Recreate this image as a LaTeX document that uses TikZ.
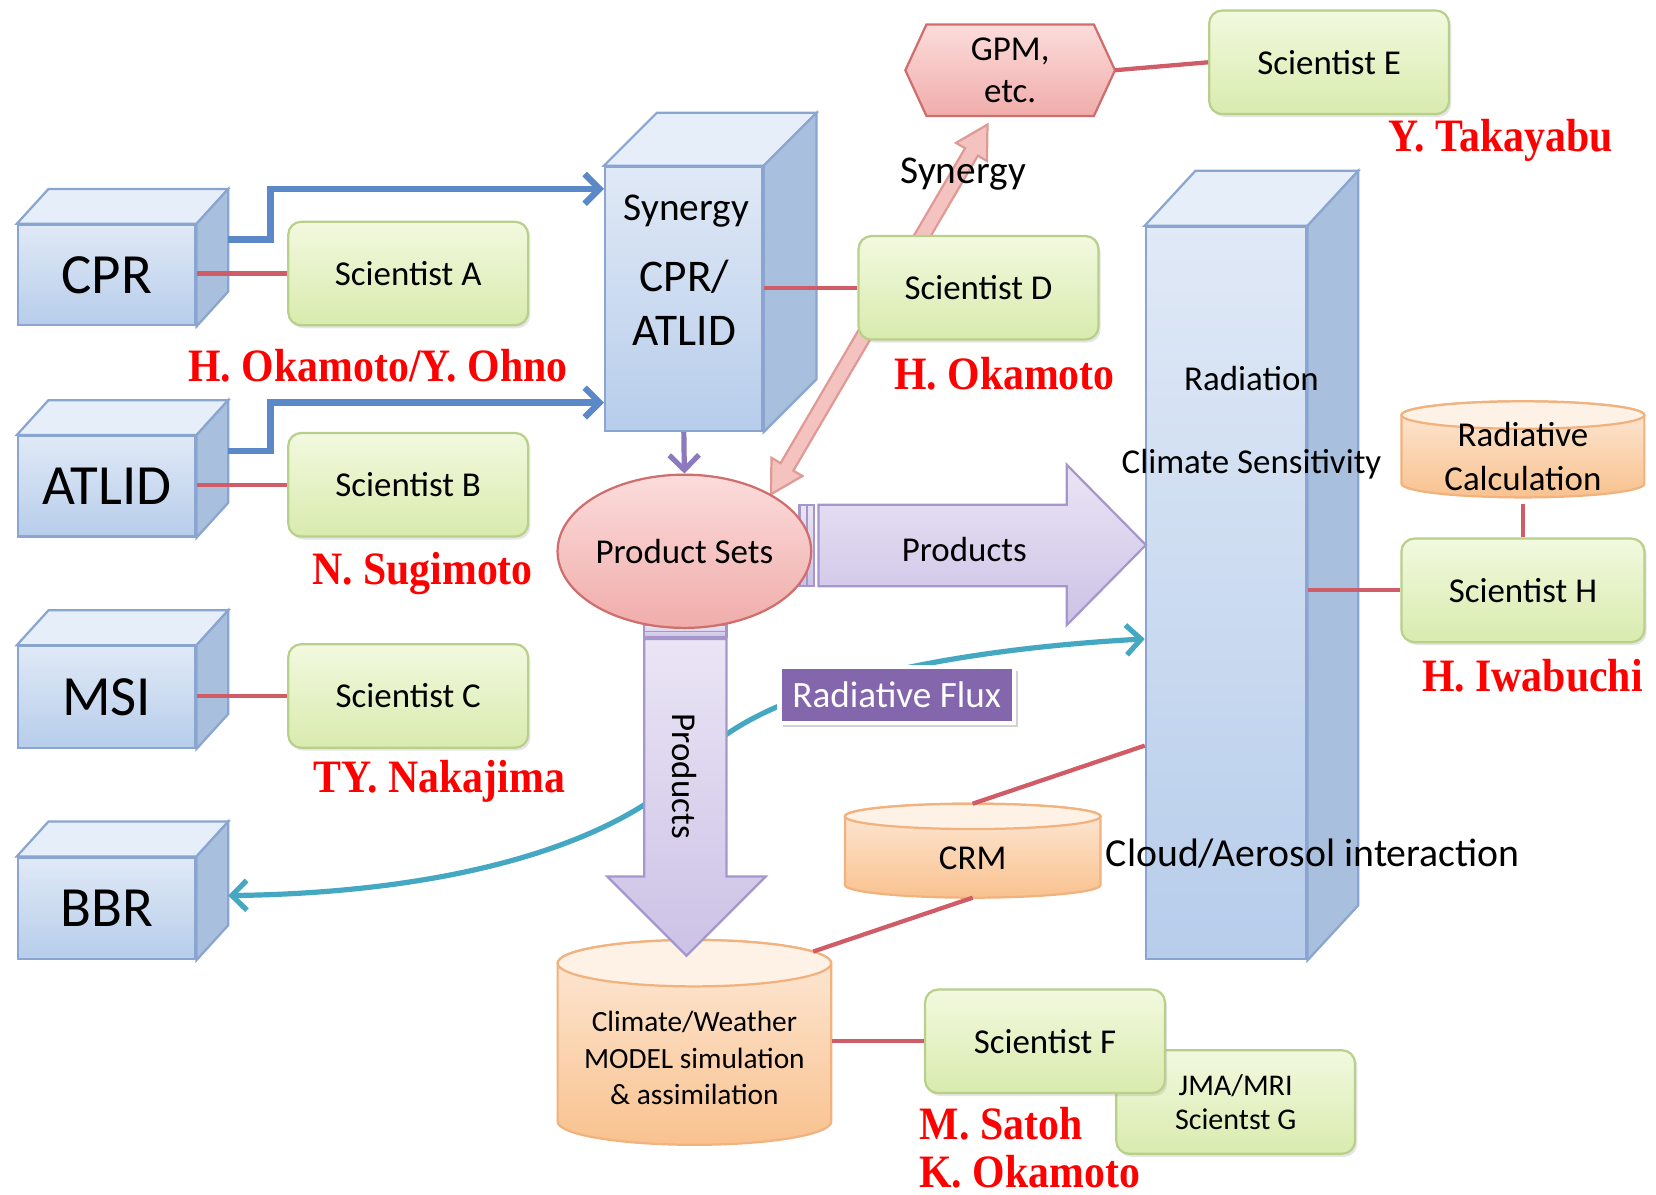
\documentclass[tikz,border=0pt]{standalone}
\usepackage{fontspec}
\setmainfont{Carlito}
\newfontfamily\rfont{Liberation Serif}
\usepackage{graphicx}
\usetikzlibrary{calc,arrows.meta,shadows,shapes.geometric}

\definecolor{cubeA}{HTML}{E0E9F6}
\definecolor{cubeB}{HTML}{B7CDEB}
\definecolor{cubeSide}{HTML}{A9BFDE}
\definecolor{cubeTop}{HTML}{E6EEF9}
\definecolor{cubeLine}{HTML}{8AA5CF}
\definecolor{sciA}{HTML}{F2F9DF}
\definecolor{sciB}{HTML}{D9EBAE}
\definecolor{sciLine}{HTML}{B9D08A}
\definecolor{redLine}{HTML}{CF5C66}
\definecolor{blueArr}{HTML}{5B89C8}
\definecolor{purpArr}{HTML}{8B7BBE}
\definecolor{tealArr}{HTML}{45A8C2}
\definecolor{pinkA}{HTML}{FBDCDB}
\definecolor{pinkB}{HTML}{F0ADAB}
\definecolor{pinkLine}{HTML}{CF6E6C}
\definecolor{pinkArr}{HTML}{F5C3BF}
\definecolor{pinkArrLine}{HTML}{E09A95}
\definecolor{prodA}{HTML}{EAE5F5}
\definecolor{prodB}{HTML}{CCC2E6}
\definecolor{prodLine}{HTML}{A597CC}
\definecolor{cylA}{HTML}{FDE9D8}
\definecolor{cylB}{HTML}{F9C28F}
\definecolor{cylTop}{HTML}{FEF1E6}
\definecolor{cylLine}{HTML}{F2B27E}
\definecolor{fluxFill}{HTML}{8466AC}

\newcommand\fsz[2]{\fontsize{#1}{#2}\selectfont}
\newcommand\nm[1]{\scalebox{0.9}[1]{#1}}

\tikzset{
  cubefront/.style={draw=cubeLine, line width=0.6pt, top color=cubeA, bottom color=cubeB, inner sep=0pt},
  cubeside/.style={draw=cubeLine, line width=0.6pt, fill=cubeSide},
  cubetop/.style={draw=cubeLine, line width=0.6pt, fill=cubeTop},
  sci/.style={draw=sciLine, line width=0.6pt, rounded corners=3.5pt, top color=sciA, bottom color=sciB,
    minimum width=2.27cm, minimum height=0.98cm, font=\fsz{9.4}{11},
    drop shadow={opacity=0.2, shadow xshift=0.6pt, shadow yshift=-0.8pt}},
  redline/.style={draw=redLine, line width=1.15pt},
  bluearr/.style={draw=blueArr, line width=1.7pt, -{Straight Barb[length=4pt,width=8pt]}},
  purparr/.style={draw=purpArr, line width=1.4pt, -{Straight Barb[length=4pt,width=8pt]}},
  tealarr/.style={draw=tealArr, line width=1.4pt, {Straight Barb[length=4pt,width=8pt]}-{Straight Barb[length=4pt,width=8pt]}},
  prodarrow/.style={draw=prodLine, line width=0.6pt, top color=prodA, bottom color=prodB},
  cylbody/.style={draw=cylLine, line width=0.6pt, top color=cylA, bottom color=cylB},
  cyltop/.style={draw=cylLine, line width=0.6pt, fill=cylTop},
  who/.style={text=red, font=\rfont\bfseries\fsz{12.5}{15}},
  lbl/.style={font=\fsz{9.4}{11}},
}

\newcommand\cuboid[8]{%
  \node[cubefront, minimum width=#4, minimum height=#5, font=\fsz{15.3}{18}] (#1) at (#2,#3) {#8};
  \filldraw[cubetop] (#1.north west) -- ++(#6,#7) -- ($(#1.north east)+(#6,#7)$) -- (#1.north east) -- cycle;
  \filldraw[cubeside] (#1.north east) -- ++(#6,#7) -- ($(#1.south east)+(#6,#7)$) -- (#1.south east) -- cycle;
}

\newcommand\drum[5]{%
  \path[cylbody] (#1-#4,#2) -- (#1-#4,#3)
     arc[start angle=180, end angle=360, x radius=#4*0.01cm, y radius=#5*0.01cm]
     -- (#1+#4,#2)
     arc[start angle=0, end angle=180, x radius=#4*0.01cm, y radius=#5*0.01cm] -- cycle;
  \path[cyltop] (#1,#2) ellipse[x radius=#4*0.01cm, y radius=#5*0.01cm];
}

\pgfdeclarelayer{bg}
\pgfsetlayers{bg,main}

\begin{document}
\begin{tikzpicture}[x=0.01cm, y=-0.01cm]
\begin{pgfonlayer}{bg}
  \fill[white] (0,0) rectangle (1568,1131);
\end{pgfonlayer}
\useasboundingbox (0,0) rectangle (1568,1131);

% cylinders
\drum{657.5}{912}{1062}{129.5}{22}
\drum{921}{773}{838}{121}{12}
\drum{1442}{393}{458}{115}{13}
\coordinate (crmtop) at (921,761);
\coordinate (crmbot) at (921,850);
\coordinate (cwtop) at (770,901);
\node[font=\fsz{7.9}{9.8}, align=center, minimum width=2.59cm] (cw) at (657.5,1002) {Climate/Weather\\MODEL simulation\\\&\ assimilation};
\node[lbl] (crm) at (921,813) {CRM};
\node[lbl, align=center, font=\fsz{9.4}{11.95}, minimum height=0.78cm, minimum width=2.3cm] (rcalc) at (1442,432) {Radiative\\Calculation};

% pink double block arrow (Product Sets <-> GPM)
\filldraw[fill=pinkArr, draw=pinkArrLine, line width=0.6pt]
  (730,468) -- (759.8,450.7) -- (751.2,445.65) -- (925.9,147.4) -- (934.5,152.5) -- (935,118)
  -- (905.2,135.3) -- (913.8,140.35) -- (739.1,438.6) -- (730.5,433.5) -- cycle;

% cuboids
\cuboid{cpr}{101}{260.5}{1.68cm}{0.95cm}{30}{-33}{CPR}
\cuboid{atlid}{101}{460.5}{1.68cm}{0.95cm}{30}{-33}{ATLID}
\cuboid{msi}{101}{660}{1.68cm}{0.96cm}{30}{-33}{MSI}
\cuboid{bbr}{101}{860}{1.68cm}{0.96cm}{30}{-33}{BBR}
\cuboid{syn}{647.5}{283}{1.49cm}{2.5cm}{50}{-50}{}
\cuboid{rad}{1161}{561.5}{1.52cm}{6.93cm}{48}{-52}{}

\node[font=\fsz{10.6}{12}] (synl1) at (650,200) {Synergy};
\node[font=\fsz{12.2}{14}] (synl2) at (648,262) {CPR/};
\node[font=\fsz{12.2}{14}] (synl3) at (648,313) {ATLID};

% teal curve
\draw[tealarr] ($(bbr.east)+(30,-12)$) .. controls (450,845) and (600,790) .. (660,720)
   .. controls (720,650) and (900,615) .. ($(rad.west)+(0,43.5)$);

% blue arrows
\draw[bluearr] ($(cpr.north east)+(30,15)$) -- ++(40,0) |- ($(syn.north west)+(0,22)$);
\draw[bluearr] ($(atlid.north east)+(30,15)$) -- ++(40,0) |- ($(syn.south west)+(0,-28)$);

% products block arrows
\filldraw[prodarrow] (775,478) -- (1010,478) -- (1010,440) -- (1085,516) -- (1010,592) -- (1010,555) -- (775,555) -- cycle;
\filldraw[prodarrow] (757,478) rectangle (771,555);
\draw[prodLine, line width=0.5pt] (764,478) -- (764,555);
\filldraw[prodarrow] (610,592) rectangle (688,603);
\draw[prodLine, line width=0.5pt] (610,598) -- (688,598);
\filldraw[prodarrow] (610,605) -- (688,605) -- (688,830) -- (725,830) -- (650,905) -- (575,830) -- (610,830) -- cycle;
\node[lbl] (prodH) at (913,520) {Products};
\node[lbl, rotate=-90] (prodV) at (648,735) {Products};

% product sets
\node[ellipse, draw=pinkLine, line width=0.6pt, top color=pinkA, bottom color=pinkB, inner sep=0pt,
  minimum width=2.4cm, minimum height=1.45cm, font=\fsz{9.4}{11}] (ps) at (648,522) {Product Sets};
\draw[purparr] (syn.south) -- (ps.north);

% GPM
\node[minimum width=1.97cm, minimum height=0.83cm, align=center, font=\fsz{9.4}{11.4}] (gpm) at (956.5,66.5) {GPM,\\etc.};
\begin{pgfonlayer}{bg}
\filldraw[draw=pinkLine, line width=0.6pt, top color=pinkA, bottom color=pinkB]
  (gpm.west) -- ($(gpm.north west)+(20,0)$) -- ($(gpm.north east)+(-20,0)$) -- (gpm.east)
  -- ($(gpm.south east)+(-20,0)$) -- ($(gpm.south west)+(20,0)$) -- cycle;
\end{pgfonlayer}

% scientists
\node[sci] (sciA) at (386.5,259) {Scientist A};
\node[sci] (sciB) at (386.5,459) {Scientist B};
\node[sci] (sciC) at (386.5,659) {Scientist C};
\node[sci] (sciD) at (926.5,272.5) {Scientist D};
\node[sci] (sciE) at (1258.5,59) {Scientist E};
\node[sci, minimum width=2.3cm] (sciH) at (1442,559) {Scientist H};
\node[sci, minimum width=2.26cm, font=\fsz{8.1}{9.1}, align=center] (sciG) at (1170,1043.5) {JMA/MRI\\Scientst G};
\node[sci] (sciF) at (989.5,986) {Scientist F};

% red links
\draw[redline] (cpr.east |- sciA.west) -- (sciA.west);
\draw[redline] (atlid.east |- sciB.west) -- (sciB.west);
\draw[redline] (msi.east |- sciC.west) -- (sciC.west);
\draw[redline] (syn.east |- sciD.west) -- (sciD.west);
\draw[redline] (gpm.east) -- (sciE.west);
\draw[redline] (rad.east |- sciH.west) -- (sciH.west);
\draw[redline] (rcalc.south) -- (sciH.north);
\draw[redline] (cw.east |- sciF.west) -- (sciF.west);
\draw[redline] (crmtop) -- ($(rad.west)+(0,144.5)$);
\draw[redline] (crmbot) -- (cwtop);

% radiative flux
\node[draw=white, line width=1.2pt, fill=fluxFill, text=white, font=\fsz{10}{12},
  minimum width=2.22cm, minimum height=0.53cm,
  drop shadow={opacity=0.35, shadow xshift=1pt, shadow yshift=-1pt}] (flux) at (849,658) {Radiative Flux};

% labels
\node[font=\fsz{10.6}{12}] (synarr) at (912,165) {Synergy};
\node[lbl] (radl1) at (1185,358) {Radiation};
\node[lbl] (radl2) at (1185,440) {Climate Sensitivity};
\node[font=\fsz{10.7}{12}] (radl3) at (1243,808) {Cloud/Aerosol interaction};

% names
\node[who] (n1) at (358,346) {\nm{H. Okamoto/Y. Ohno}};
\node[who] (n2) at (951,354) {\nm{H. Okamoto}};
\node[who] (n3) at (1421,133) {\nm{Y. Takayabu}};
\node[who] (n4) at (400,543) {\nm{N. Sugimoto}};
\node[who] (n5) at (416,740) {\nm{TY. Nakajima}};
\node[who] (n6) at (1451,640) {\nm{H. Iwabuchi}};
\node[who] (n7) at (948,1064) {\nm{M. Satoh}};
\node[who] (n8) at (975,1109) {\nm{K. Okamoto}};
\end{tikzpicture}
\end{document}
